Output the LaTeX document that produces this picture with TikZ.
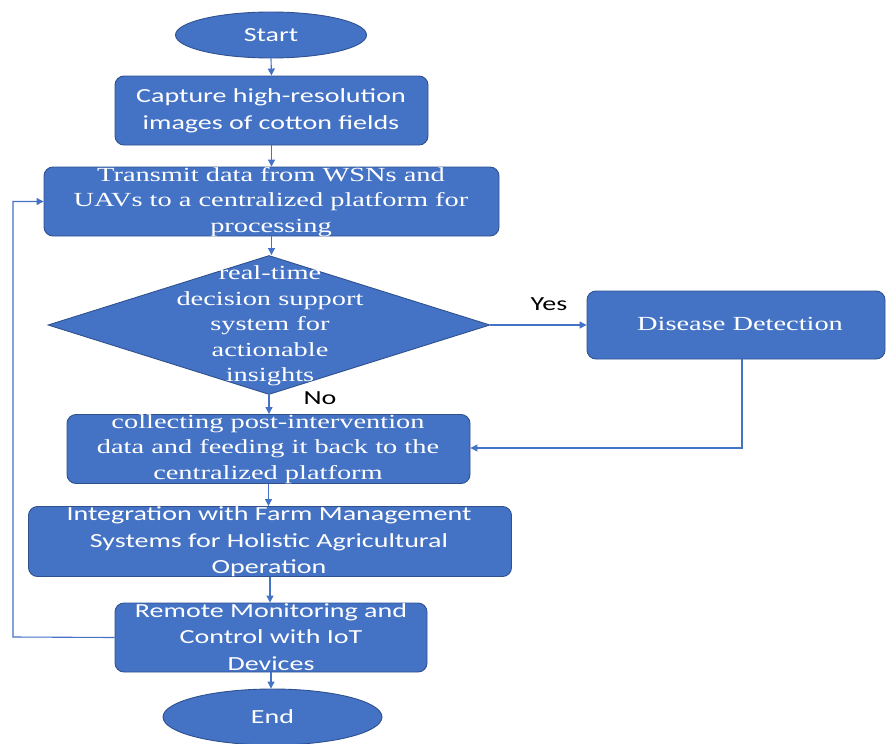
\documentclass[tikz,border=0pt]{standalone}
\usepackage{fontspec}
\newfontfamily\sansf{Carlito}[FakeStretch=1.4]
\newfontfamily\seriff{Liberation Serif}[FakeStretch=1.42]
\usetikzlibrary{shapes.geometric,arrows.meta}
\definecolor{boxfill}{HTML}{4472C4}
\definecolor{boxline}{HTML}{2F528F}
\definecolor{conn}{HTML}{4472C4}
\tikzset{
  proc/.style={draw=boxline, fill=boxfill, line width=0.9pt, rounded corners=9pt, inner sep=0pt},
  term/.style={draw=boxline, fill=boxfill, line width=0.9pt, ellipse, inner sep=0pt},
  dec/.style={draw=boxline, fill=boxfill, line width=0.9pt, diamond, inner sep=0pt},
  stxt/.style={text=white, align=center, inner sep=0pt, font=\sansf\fontsize{20}{26.5}\selectfont},
  rtxt/.style={text=white, align=center, inner sep=0pt, font=\seriff\fontsize{20}{25.5}\selectfont},
  lbl/.style={text=black, inner sep=0pt, font=\sansf\fontsize{20}{24}\selectfont},
  conn/.style={draw=conn, line width=1.1pt, -{Triangle[length=7pt,width=7pt]}}
}
\begin{document}
\begin{tikzpicture}[x=1pt,y=-1pt]
\useasboundingbox (0,0) rectangle (886,744);
% shapes
\node[term, minimum width=191pt, minimum height=46pt] (start) at (271,35) {};
\node[proc, minimum width=313pt, minimum height=69pt] (cap) at (271.5,110.5) {};
\node[proc, minimum width=455pt, minimum height=69pt] (tx) at (271.5,201.5) {};
\node[dec, minimum width=442pt, minimum height=139pt] (dia) at (269,325) {};
\node[proc, minimum width=298pt, minimum height=68pt] (dis) at (736,325) {};
\node[proc, minimum width=403pt, minimum height=69pt] (coll) at (268.5,449) {};
\node[proc, minimum width=483pt, minimum height=70pt] (integ) at (270,541.5) {};
\node[proc, minimum width=312pt, minimum height=69pt] (rem) at (271,637.5) {};
\node[term, minimum width=219pt, minimum height=56pt] (end) at (272.5,717) {};
% texts
\node[stxt] (tstart) at (start) {Start};
\node[stxt] (tcap) at (271,111) {Capture high-resolution\\images of cotton fields};
\node[rtxt] (ttx) at (271,202) {Transmit data from WSNs and\\UAVs to a centralized platform for\\processing};
\node[rtxt] (tdia) at (270,326) {real-time\\decision support\\system for\\actionable\\insights};
\node[rtxt] (tdis) at (740,324) {Disease Detection};
\node[rtxt] (tcoll) at (268,449) {collecting post-intervention\\data and feeding it back to the\\centralized platform};
\node[stxt] (tinteg) at (269,542) {Integration with Farm Management\\Systems for Holistic Agricultural\\Operation};
\node[stxt] (trem) at (271,637) {Remote Monitoring and\\Control with IoT\\Devices};
\node[stxt] (tend) at (end) {End};
\node[lbl] (yes) at (549,304) {Yes};
\node[lbl] (no) at (320,398) {No};
% connectors
\draw[conn] (start.south) -- (cap.north);
\draw[conn] (cap.south) -- (tx.north);
\draw[conn] (tx.south) -- (tx.south |- dia.north);
\draw[conn] (dia.south) -- (dia.south |- coll.north);
\draw[conn] (dia.east) -- (dia.east -| dis.west);
\coordinate (dturn) at (742,448);
\draw[conn] (dis.south -| dturn) -- (dturn) -- (coll.east |- dturn);
\draw[conn] (coll.south) -- (coll.south |- integ.north);
\draw[conn] (integ.south) -- (integ.south |- rem.north);
\draw[conn] (rem.south) -- (rem.south |- end.north);
\coordinate (fb) at (13,637);
\draw[conn] (rem.west) -- (fb) |- (tx.west);
\end{tikzpicture}
\end{document}
